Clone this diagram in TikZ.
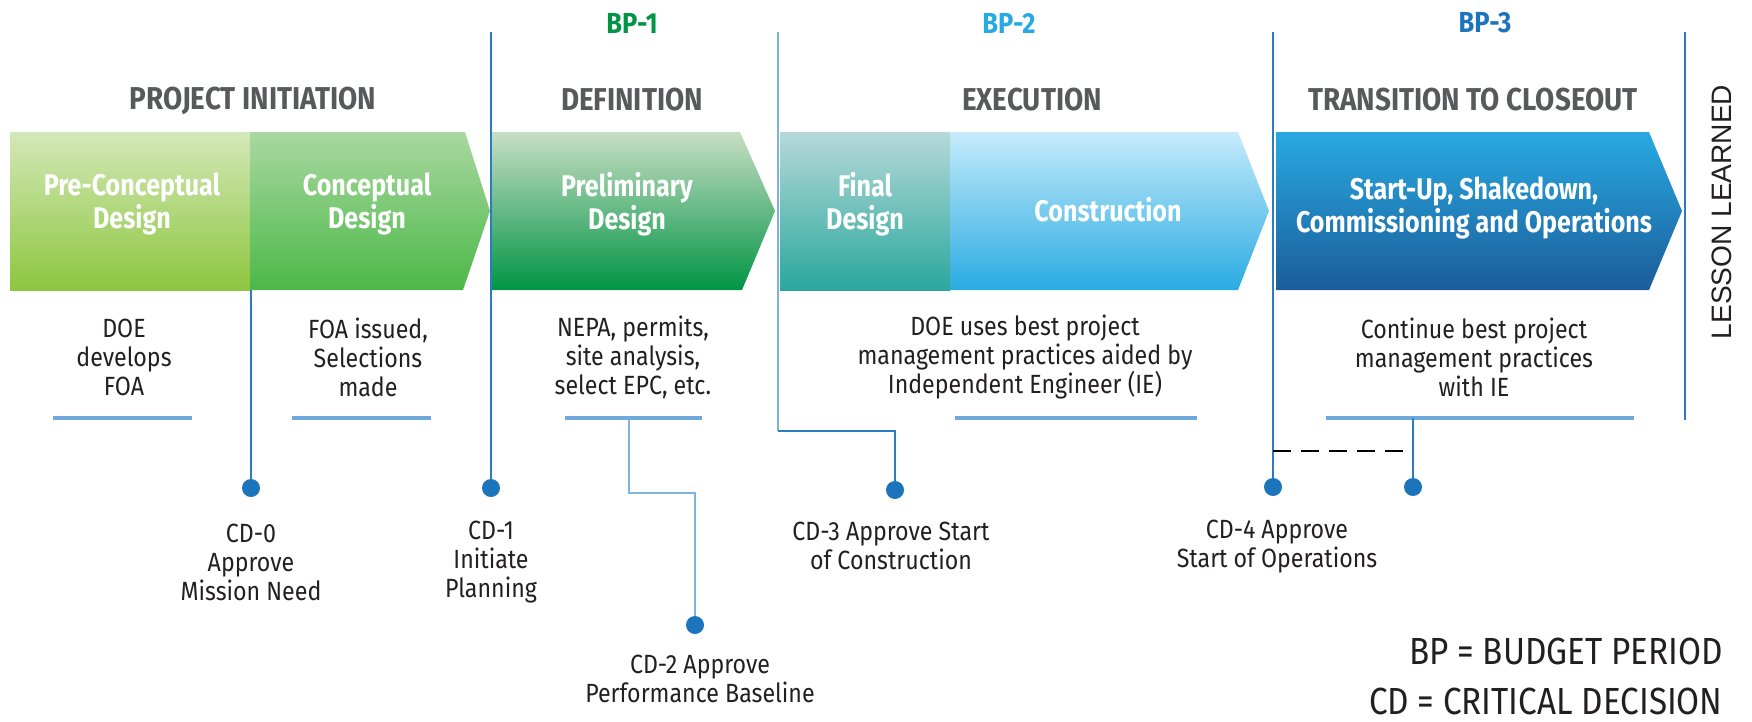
\documentclass[tikz,border=0pt]{standalone}
\usepackage{fontspec}
\setmainfont{Fira Sans}[FakeStretch=0.88]
\newfontfamily\condfont{Fira Sans}[FakeStretch=0.84]
\newfontfamily\widefont{Liberation Sans}
\usetikzlibrary{calc}

\definecolor{dotblue}{HTML}{1C75BC}
\definecolor{gateblue}{HTML}{2B7CC1}
\definecolor{paleblue}{HTML}{7DB3DE}
\definecolor{rulerblue}{HTML}{6FA8DA}
\definecolor{headgray}{HTML}{58595B}
\definecolor{bodyblack}{HTML}{231F20}
\definecolor{bpgreen}{HTML}{009444}
\definecolor{bpcyan}{HTML}{27AAE1}
\definecolor{bpblue}{HTML}{1C75BC}

\begin{document}
\begin{tikzpicture}[x=0.02cm, y=-0.02cm,
    barlabel/.style={text=white, font=\condfont\bfseries\fontsize{17}{18.5}\selectfont, align=center, inner sep=0pt},
    phase/.style={text=headgray, font=\bfseries\fontsize{18}{20}\selectfont, inner sep=0pt},
    bplabel/.style={font=\bfseries\fontsize{16.5}{18}\selectfont, inner sep=0pt},
    bodytext/.style={text=bodyblack, font=\fontsize{15}{16.5}\selectfont, align=center, inner sep=0pt},
    legend/.style={text=bodyblack, font=\fontsize{21.5}{24}\selectfont, anchor=east, inner sep=0pt},
    cddot/.style={circle, fill=dotblue, minimum size=0.36cm, inner sep=0pt},
    gate/.style={gateblue, line width=1.2pt},
    lightgate/.style={paleblue, line width=1.2pt},
    ruler/.style={rulerblue, line width=2pt}]

    \useasboundingbox (0,0) rectangle (1752,721);

    % phase bars
    \shade[top color={rgb,255:red,211;green,232;blue,184}, middle color={rgb,255:red,166;green,208;blue,94}, bottom color={rgb,255:red,141;green,198;blue,63}]
    (10,132) rectangle (250,290);
    \shade[top color={rgb,255:red,169;green,216;blue,160}, middle color={rgb,255:red,98;green,188;blue,92}, bottom color={rgb,255:red,76;green,184;blue,72}]
    (250,132) -- (465,132) -- (490,211) -- (463,290) -- (250,290) -- cycle;
    \shade[top color={rgb,255:red,200;green,222;blue,196}, middle color={rgb,255:red,95;green,168;blue,102}, bottom color={rgb,255:red,0;green,148;blue,68}]
    (492,132) -- (740,132) -- (775,211) -- (742,290) -- (492,290) -- cycle;
    \shade[top color={rgb,255:red,182;green,217;blue,217}, middle color={rgb,255:red,124;green,191;blue,188}, bottom color={rgb,255:red,42;green,167;blue,157}]
    (780,132) rectangle (950,290);
    \shade[top color={rgb,255:red,198;green,235;blue,251}, middle color={rgb,255:red,108;green,196;blue,238}, bottom color={rgb,255:red,41;green,171;blue,226}]
    (950,132) -- (1238,132) -- (1269,211) -- (1238,290) -- (950,290) -- cycle;
    \shade[top color={rgb,255:red,41;green,169;blue,225}, middle color={rgb,255:red,32;green,137;blue,203}, bottom color={rgb,255:red,26;green,93;blue,154}]
    (1276,132) -- (1649,132) -- (1682,211) -- (1649,290) -- (1276,290) -- cycle;

    \node[barlabel] (precon) at (132,204) {Pre-Conceptual\\Design};
    \node[barlabel] (concept) at (367,204) {Conceptual\\Design};
    \node[barlabel] (prelim) at (627,204) {Preliminary\\Design};
    \node[barlabel] (final) at (865,204) {Final\\Design};
    \node[barlabel] (constr) at (1108,210) {Construction};
    \node[barlabel] (startup) at (1474,208) {Start-Up, Shakedown,\\Commissioning and Operations};

    % headings
    \node[phase] (initiation) at (253,101) {PROJECT INITIATION};
    \node[phase] (definition) at (632,100) {DEFINITION};
    \node[phase] (execution) at (1032,100) {EXECUTION};
    \node[phase] (transition) at (1473,100) {TRANSITION TO CLOSEOUT};

    \node[bplabel, text=bpgreen] (bp1) at (632,23) {BP-1};
    \node[bplabel, text=bpcyan] (bp2) at (1009,23) {BP-2};
    \node[bplabel, text=bpblue] (bp3) at (1485,23) {BP-3};

    \node[rotate=90, text=bodyblack, font=\widefont\fontsize{16}{18}\selectfont, inner sep=0pt] (lesson) at (1722,212) {LESSON LEARNED};

    % activities
    \node[bodytext] (doefoa) at (124,357) {DOE\\develops\\FOA};
    \node[bodytext] (foaissued) at (368,357) {FOA issued,\\Selections\\made};
    \node[bodytext] (nepa) at (633,357) {NEPA, permits,\\site analysis,\\select EPC, etc.};
    \node[bodytext] (doeuses) at (1025,357) {DOE uses best project\\management practices aided by\\Independent Engineer (IE)};
    \node[bodytext] (continue) at (1474,357) {Continue best project\\management practices\\with IE};

    \draw[ruler] (53,418) -- (192,418);
    \draw[ruler] (292,418) -- (431,418);
    \draw[ruler] (565,418) -- (702,418);
    \draw[ruler] (955,418) -- (1197,418);
    \draw[ruler] (1326,418) -- (1634,418);

    % critical decisions
    \node[cddot] (cd0) at (251,488) {};
    \node[cddot] (cd1) at (491,488) {};
    \node[cddot] (cd2) at (695,625) {};
    \node[cddot] (cd3) at (895,490) {};
    \node[cddot] (cd4) at (1273,487) {};
    \node[cddot] (cd4ie) at (1413,487) {};

    \coordinate (cd0top) at (251,290);
    \coordinate (gate1) at (491,32);
    \coordinate (gate2) at (778,32);
    \coordinate (gate2bend) at (778,431);
    \coordinate (gate3) at (1273,32);
    \coordinate (gate4) at (1685,32);
    \coordinate (gate4end) at (1685,420);
    \coordinate (cd2top) at (629,418);
    \coordinate (cd2bend) at (629,493);
    \coordinate (cd4ietop) at (1413,418);

    \draw[gate] (cd0top) -- (cd0);
    \draw[gate] (gate1) -- (cd1);
    \draw[lightgate] (gate2) -- (gate2bend);
    \draw[gate] (gate2bend) -| (cd3);
    \draw[lightgate] (cd2top) -- (cd2bend) -| (cd2);
    \draw[gate] (gate3) -- (cd4);
    \draw[gate] (cd4ietop) -- (cd4ie);
    \draw[gate] (gate4) -- (gate4end);
    \draw[black, line width=1pt, dash pattern=on 10pt off 6pt] (1273,451) -- (1413,451);

    \node[bodytext] (cd0text) at (251,562) {CD-0\\Approve\\Mission Need};
    \node[bodytext] (cd1text) at (491,562) {CD-1\\Initiate\\Planning};
    \node[bodytext] (cd2text) at (700,679) {CD-2 Approve\\Performance Baseline};
    \node[bodytext] (cd3text) at (891,546) {CD-3 Approve Start\\of Construction};
    \node[bodytext] (cd4text) at (1277,547) {CD-4 Approve\\Start of Operations};

    % legend
    \node[legend] (bplegend) at (1723,651) {BP = BUDGET PERIOD};
    \node[legend] (cdlegend) at (1723,701) {CD = CRITICAL DECISION};

\end{tikzpicture}
\end{document}
